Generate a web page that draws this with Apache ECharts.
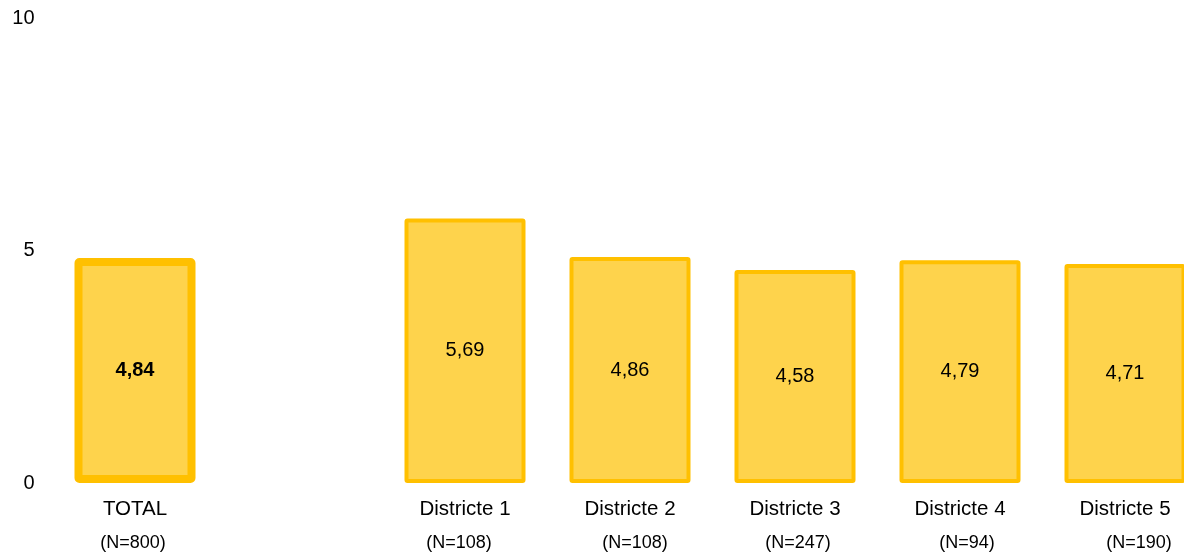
<!DOCTYPE html>
<html>
<head>
<meta charset="utf-8">
<script src="https://cdn.jsdelivr.net/npm/echarts@6/dist/echarts.min.js"></script>
<style>
html,body{margin:0;padding:0;background:#fff;overflow:hidden;width:1184px;height:555px;}
#chart{width:1208px;height:555px;}
</style>
</head>
<body>
<div id="chart"></div>
<script>
const categories = ['TOTAL', '', 'Districte 1', 'Districte 2', 'Districte 3', 'Districte 4', 'Districte 5'];
const sampleSizes = ['800', '', '108', '108', '247', '94', '190'];
const values = [4.84, '-', 5.69, 4.86, 4.58, 4.79, 4.71];
const yTicks = [0, 5, 10];

// horizontal nudges of the (N=...) labels, in px (visual only)
const nShift = [-2, 0, -6, 5, 3, 7, 14];

const FONT = '"Liberation Sans", Arial, sans-serif';
const fill = '#FED34C';
const edge = '#FFC000';

const rich = { c: { fontSize: 20.5, lineHeight: 34, color: '#000', fontFamily: FONT } };
nShift.forEach((s, i) => {
  rich['n' + i] = {
    fontSize: 18, lineHeight: 34, color: '#000', fontFamily: FONT,
    padding: s >= 0 ? [0, 0, 0, 2 * s] : [0, -2 * s, 0, 0]
  };
});

const chart = echarts.init(document.getElementById('chart'), null, { renderer: 'canvas' });
chart.setOption({
  animation: false,
  backgroundColor: '#fff',
  grid: { left: 52.5, right: 0.5, top: 18, bottom: 72, containLabel: false },
  xAxis: {
    type: 'category',
    data: categories,
    axisLine: { show: false },
    axisTick: { show: false },
    axisLabel: {
      interval: 0,
      margin: 9,
      fontFamily: FONT,
      formatter: function (v, i) {
        if (!v) return '';
        return '{c|' + v + '}\n{n' + i + '|(N=' + sampleSizes[i] + ')}';
      },
      rich: rich
    }
  },
  yAxis: {
    type: 'value',
    min: yTicks[0],
    max: yTicks[yTicks.length - 1],
    interval: yTicks[1] - yTicks[0],
    axisLine: { show: false },
    axisTick: { show: false },
    splitLine: { show: false },
    axisLabel: { margin: 18, fontSize: 20, color: '#000', fontFamily: FONT }
  },
  series: [{
    type: 'bar',
    barWidth: 121,
    data: values.map((v, i) => {
      if (v === '-') return '-';
      const isTotal = i === 0;
      return {
        value: v,
        itemStyle: { color: fill, borderColor: edge, borderWidth: isTotal ? 8 : 4, borderRadius: 1 },
        label: { fontWeight: isTotal ? 'bold' : 'normal' }
      };
    }),
    label: {
      show: true,
      position: 'inside',
      color: '#000',
      fontSize: 20,
      fontFamily: FONT,
      formatter: p => Number(p.value).toFixed(2).replace('.', ',')
    }
  }]
});
</script>
</body>
</html>
